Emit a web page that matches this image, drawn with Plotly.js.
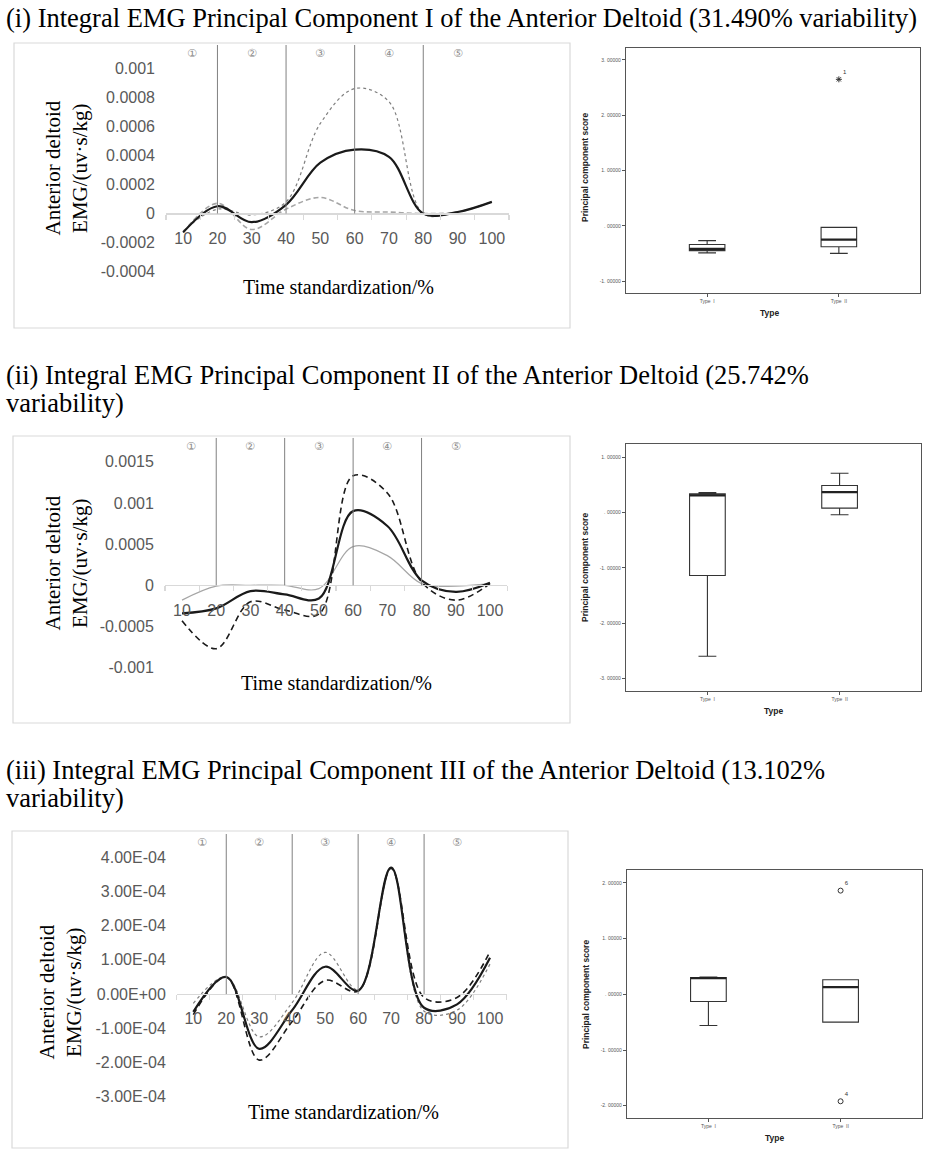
<!DOCTYPE html>
<html><head><meta charset="utf-8">
<script src="https://cdn.plot.ly/plotly-3.0.1.min.js"></script>
<style>html,body{margin:0;padding:0;background:#fff}#chart{width:927px;height:1161px}</style>
</head><body><div id="chart"></div>
<script>
// ---------- data ----------
const timePct = [10,20,30,40,50,60,70,80,90,100];
const phaseBounds = [20,40,60,80];
const phaseLabels = ['\u2460','\u2461','\u2462','\u2463','\u2464'];

const pc1Solid  = [-0.00013, 0.00005, -0.00006, 0.00006, 0.00035, 0.00044, 0.00039, 0.0, 0.00001, 0.00008];
const pc1Dotted = [-0.00012, 0.00003, -0.00001, 0.00008, 0.00062, 0.00086, 0.00077, 0.0, 0.00001, 0.00008];
const pc1Dashed = [-0.00013, 0.00007, -0.00011, 0.00003, 0.00011, 0.00002, 0.00001, 0.0, 0.00001, 0.00008];

const pc2Solid  = [-0.00034, -0.00028, -0.00007, -0.00011, -0.00016, 0.00090, 0.00072, 0.00006, -0.00008, 0.00003];
const pc2Dashed = [-0.00043, -0.00077, -0.00020, -0.00030, -0.00035, 0.00133, 0.00112, 0.00004, -0.00018, 0.00002];
const pc2Gray   = [-0.00018, -0.00001, 0.0, 0.0, -0.00004, 0.00047, 0.00036, 0.00002, -0.00001, 0.00002];

const pc3Solid  = [-5.2e-5, 5e-5, -1.60e-4, -4.7e-5, 8.0e-5, 1.0e-5, 3.70e-4, -4.0e-5, -3.0e-5, 1.06e-4];
const pc3Dotted = [-2.7e-5, 5e-5, -1.25e-4, -2.5e-5, 1.22e-4, 1.2e-5, 3.70e-4, -5.0e-5, -4.7e-5, 8.8e-5];
const pc3Dashed = [-6.0e-5, 5e-5, -1.93e-4, -8.0e-5, 4.0e-5, 9e-6, 3.67e-4, -1.0e-5, -1.0e-5, 1.24e-4];

const y1Ticks = [-0.0004,-0.0002,0,0.0002,0.0004,0.0006,0.0008,0.001];
const y1Text  = ['-0.0004','-0.0002','0','0.0002','0.0004','0.0006','0.0008','0.001'];
const y2Ticks = [-0.001,-0.0005,0,0.0005,0.001,0.0015];
const y2Text  = ['-0.001','-0.0005','0','0.0005','0.001','0.0015'];
const y3Ticks = [-3e-4,-2e-4,-1e-4,0,1e-4,2e-4,3e-4,4e-4];
const y3Text  = ['-3.00E-04','-2.00E-04','-1.00E-04','0.00E+00','1.00E-04','2.00E-04','3.00E-04','4.00E-04'];

const boxTypes = ['Type  I','Type  II'];
const boxPos = [0,1];
const b1Q1 = [-0.45,-0.38], b1Med = [-0.42,-0.25], b1Q3 = [-0.34,-0.03], b1Lo = [-0.49,-0.50], b1Hi = [-0.27,-0.03];
const b1OutX = [1], b1OutY = [2.65], b1OutLbl = ['1'];
const b2Q1 = [-1.14,0.08], b2Med = [0.31,0.37], b2Q3 = [0.337,0.49], b2Lo = [-2.60,-0.04], b2Hi = [0.36,0.71];
const b3Q1 = [-0.13,-0.50], b3Med = [0.29,0.13], b3Q3 = [0.30,0.26], b3Lo = [-0.56,-0.50], b3Hi = [0.31,0.26];
const b3OutX = [1,1], b3OutY = [1.86,-1.92], b3OutLbl = ['6','4'];
const b1Ticks = [-1,0,1,2,3], b1Text = ['-1. 00000','. 00000','1. 00000','2. 00000','3. 00000'];
const b2Ticks = [-3,-2,-1,0,1], b2Text = ['-3. 00000','-2. 00000','-1. 00000','. 00000','1. 00000'];
const b3Ticks = [-2,-1,0,1,2], b3Text = ['-2. 00000','-1. 00000','. 00000','1. 00000','2. 00000'];

const titles = [
  ['(i) Integral EMG Principal Component I of the Anterior Deltoid (31.490% variability)'],
  ['(ii) Integral EMG Principal Component II of the Anterior Deltoid (25.742%', 'variability)'],
  ['(iii) Integral EMG Principal Component III of the Anterior Deltoid (13.102%', 'variability)']
];

// ---------- geometry helpers ----------
const W = 927, H = 1161;
const fx = p => p / W;
const fy = p => 1 - p / H;
const xdom = (a,b) => [fx(a), fx(b)];
const ydom = (top,bottom) => [fy(bottom), fy(top)];

const serif = 'Liberation Serif, Times New Roman, serif';
const sans = 'Liberation Sans, Arial, sans-serif';
const tickGray = '#595959';
const axisGray = '#d9d9d9';

const linePanels = [
  {xd:[166,509], yd:[45,271.6], yr:[-0.0004,0.00116], yt:y1Ticks, ytt:y1Text,
   series:[[pc1Dotted,'#7f7f7f',1.2,'dot'],[pc1Dashed,'#a6a6a6',1.6,'5px,3px'],[pc1Solid,'#1a1a1a',2.2,'solid']],
   ytitle:[66.5,168], xtitle:[338,287], lblY:54},
  {xd:[164.9,507.1], yd:[437.8,667.7], yr:[-0.001,0.00179], yt:y2Ticks, ytt:y2Text,
   series:[[pc2Gray,'#a6a6a6',1.2,'solid'],[pc2Dashed,'#1a1a1a',1.6,'6px,4px'],[pc2Solid,'#1a1a1a',2.2,'solid']],
   ytitle:[66.5,563], xtitle:[336,683], lblY:447},
  {xd:[176.8,506.5], yd:[834,1096.7], yr:[-0.0003,0.000468], yt:y3Ticks, ytt:y3Text,
   series:[[pc3Dotted,'#7f7f7f',1.2,'dot'],[pc3Dashed,'#1a1a1a',1.6,'6px,4px'],[pc3Solid,'#1a1a1a',2.2,'solid']],
   ytitle:[59.5,992], xtitle:[343,1112], lblY:842}
];

const boxPanels = [
  {xd:[626,920], yd:[48,293], yr:[-1.217,3.217], yt:b1Ticks, ytt:b1Text,
   q1:b1Q1, med:b1Med, q3:b1Q3, lo:b1Lo, hi:b1Hi, outX:b1OutX, outY:b1OutY, outL:b1OutLbl, sym:'asterisk-open',
   ytitle:[585,168], type:[769,313]},
  {xd:[626,921], yd:[444,691], yr:[-3.23,1.24], yt:b2Ticks, ytt:b2Text,
   q1:b2Q1, med:b2Med, q3:b2Q3, lo:b2Lo, hi:b2Hi, outX:[], outY:[], outL:[], sym:'circle-open',
   ytitle:[585,568], type:[773,711]},
  {xd:[627,922], yd:[870,1118], yr:[-2.22,2.23], yt:b3Ticks, ytt:b3Text,
   q1:b3Q1, med:b3Med, q3:b3Q3, lo:b3Lo, hi:b3Hi, outX:b3OutX, outY:b3OutY, outL:b3OutLbl, sym:'circle-open',
   ytitle:[586,995], type:[774,1138]}
];

const panelBorders = [[14,43,570,328],[13,436,570,723],[12,831,568,1148]];

const traces = [];
const layout = {
  width: W, height: H, margin:{l:0,r:0,t:0,b:0},
  paper_bgcolor:'#fff', plot_bgcolor:'#fff', showlegend:false, hovermode:false,
  shapes:[], annotations:[]
};

// section titles
const titleY = [[18],[375,403],[770,798]];
titles.forEach((lines,i)=>{
  lines.forEach((t,j)=>{
    layout.annotations.push({xref:'paper', yref:'paper', x:fx(4), y:fy(titleY[i][j]), xanchor:'left', yanchor:'middle',
      text:t, showarrow:false, font:{family:serif, size:26.5, color:'#000'}});
  });
});

// panel borders
panelBorders.forEach(b=>{
  layout.shapes.push({type:'rect', xref:'paper', yref:'paper', x0:fx(b[0]), x1:fx(b[2]), y0:fy(b[3]), y1:fy(b[1]),
    line:{color:'#d9d9d9', width:1.2}, fillcolor:'rgba(0,0,0,0)', layer:'below'});
});

const minorTicks = [timePct[0]-5].concat(timePct.map(v=>v+5));
const xRange = [timePct[0]-5, timePct[timePct.length-1]+5];

linePanels.forEach((p,i)=>{
  const n = i+1;
  const xa = 'xaxis'+(n===1?'':n), ya = 'yaxis'+(n===1?'':n);
  const xr = 'x'+(n===1?'':n), yr = 'y'+(n===1?'':n);
  const yd = ydom(p.yd[0], p.yd[1]);
  const zeroPos = yd[0] + (0 - p.yr[0])/(p.yr[1]-p.yr[0])*(yd[1]-yd[0]);
  layout[xa] = {domain: xdom(p.xd[0],p.xd[1]), range: xRange, anchor:'free', position: zeroPos,
    showline:true, linecolor:axisGray, linewidth:1.2, showgrid:false, zeroline:false,
    tickmode:'array', tickvals: timePct, ticktext: timePct.map(String), ticks:'', ticklabelstandoff: 10,
    tickfont:{family:sans, size:16, color:tickGray},
    minor:{tickmode:'array', tickvals:minorTicks, ticks:'outside', ticklen:5, tickcolor:axisGray, tickwidth:1.2, showgrid:false}};
  layout[ya] = {domain: yd, range: p.yr, anchor: xr, showline:false, showgrid:false, zeroline:false,
    tickmode:'array', tickvals:p.yt, ticktext:p.ytt, ticks:'', ticklabelstandoff: 10,
    tickfont:{family:sans, size:16, color:tickGray}};
  p.series.forEach(s=>{
    traces.push({type:'scatter', mode:'lines', x: timePct, y: s[0], xaxis:xr, yaxis:yr,
      line:{color:s[1], width:s[2], dash:s[3], shape:'spline', smoothing:1}});
  });
  phaseBounds.forEach(b=>{
    layout.shapes.push({type:'line', xref:xr, yref:yr, x0:b, x1:b, y0:0, y1:p.yr[1],
      line:{color:'#808080', width:1}});
  });
  const edges = [xRange[0]].concat(phaseBounds, [timePct[timePct.length-1]]);
  phaseLabels.forEach((t,k)=>{
    layout.annotations.push({xref:xr, yref:'paper', x:(edges[k]+edges[k+1])/2, y:fy(p.lblY), text:t, showarrow:false,
      xanchor:'center', yanchor:'middle', font:{family:'DejaVu Sans, Noto Sans CJK SC', size:11, color:'#8c8c8c'}});
  });
  layout.annotations.push({xref:'paper', yref:'paper', x:fx(p.ytitle[0]), y:fy(p.ytitle[1]), textangle:-90,
    text:'Anterior deltoid<br>EMG/(uv\u00b7s/kg)', showarrow:false, xanchor:'center', yanchor:'middle',
    font:{family:serif, size:21, color:'#000'}});
  layout.annotations.push({xref:'paper', yref:'paper', x:fx(p.xtitle[0]), y:fy(p.xtitle[1]),
    text:'Time standardization/%', showarrow:false, xanchor:'center', yanchor:'middle',
    font:{family:serif, size:20, color:'#000'}});
});

const boxW = 0.27;
const frameCol = '#555';
boxPanels.forEach((p,i)=>{
  const n = i+4;
  const xa = 'xaxis'+n, ya = 'yaxis'+n, xr = 'x'+n, yr = 'y'+n;
  layout[xa] = {domain: xdom(p.xd[0],p.xd[1]), range:[-0.616,1.616], anchor: yr,
    showline:true, mirror:true, linecolor:frameCol, linewidth:1.2, showgrid:false, zeroline:false,
    tickmode:'array', tickvals: boxPos, ticktext: boxTypes, ticks:'outside', ticklen:3, tickcolor:frameCol,
    tickfont:{family:sans, size:5, color:'#555'}};
  layout[ya] = {domain: ydom(p.yd[0],p.yd[1]), range:p.yr, anchor: xr,
    showline:true, mirror:true, linecolor:frameCol, linewidth:1.2, showgrid:false, zeroline:false,
    tickmode:'array', tickvals:p.yt, ticktext:p.ytt, ticks:'outside', ticklen:3, tickcolor:frameCol,
    tickfont:{family:sans, size:5, color:'#555'}};
  traces.push({type:'box', x: boxPos, q1:p.q1, median:p.med, q3:p.q3, lowerfence:p.lo, upperfence:p.hi,
    xaxis:xr, yaxis:yr, width:boxW, whiskerwidth:0.5, boxpoints:false, fillcolor:'#fff',
    line:{color:'#333', width:1.1}});
  const mx = [], my = [];
  boxPos.forEach((x,k)=>{ mx.push(x-boxW/2, x+boxW/2, null); my.push(p.med[k], p.med[k], null); });
  traces.push({type:'scatter', mode:'lines', x:mx, y:my, xaxis:xr, yaxis:yr, line:{color:'#222', width:2.2}});
  if (p.outX.length) {
    traces.push({type:'scatter', mode:'markers+text', x:p.outX, y:p.outY, text:p.outL, xaxis:xr, yaxis:yr,
      textposition:'top right', textfont:{family:sans, size:6, color:'#333'},
      marker:{symbol:p.sym, size:5, color:'#333', line:{color:'#333', width:1}}});
  }
  layout.annotations.push({xref:'paper', yref:'paper', x:fx(p.ytitle[0]), y:fy(p.ytitle[1]), textangle:-90,
    text:'<b>Principal component score</b>', showarrow:false, xanchor:'center', yanchor:'middle',
    font:{family:sans, size:8.5, color:'#222'}});
  layout.annotations.push({xref:'paper', yref:'paper', x:fx(p.type[0]), y:fy(p.type[1]),
    text:'<b>Type</b>', showarrow:false, xanchor:'center', yanchor:'middle',
    font:{family:sans, size:8.5, color:'#222'}});
});

Plotly.newPlot('chart', traces, layout, {staticPlot:true, displayModeBar:false});
</script>
</body></html>
